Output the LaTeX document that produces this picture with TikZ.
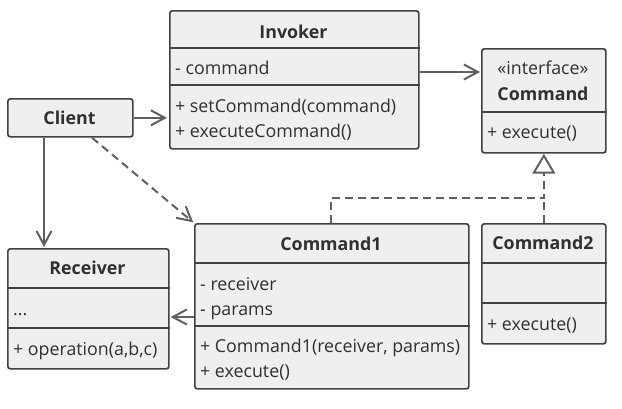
\documentclass[tikz,border=0pt]{standalone}
\usepackage{fontspec}
\setmainfont{Open Sans}
\usetikzlibrary{arrows.meta}
\definecolor{bd}{HTML}{424242}
\definecolor{fl}{HTML}{EFEFEF}
\definecolor{tx}{HTML}{303030}
\definecolor{ln}{HTML}{606060}
\begin{document}
\begin{tikzpicture}[x=1pt,y=-1pt,
  box/.style={draw=bd, fill=fl, line width=1.7pt, rounded corners=2.5pt, inner sep=0pt, anchor=north west},
  sep/.style={draw=bd, line width=1.7pt},
  txt/.style={anchor=base west, inner sep=0pt, text=tx, font=\fontsize{17.8}{20}\selectfont},
  ttl/.style={anchor=base, inner sep=0pt, text=tx, font=\fontsize{17.8}{20}\selectfont\bfseries},
  conn/.style={draw=ln, line width=2pt},
  opentip/.style={-{Straight Barb[length=14pt,width=15pt,line width=2pt]}},
  dsh/.style={dash pattern=on 8pt off 5pt},
]
\useasboundingbox (0,0) rectangle (622,408);

% Invoker
\node[box, minimum width=249pt, minimum height=138pt] (inv) at (169,10) {};
\draw[sep] (inv.west |- 0,48) -- (inv.east |- 0,48);
\draw[sep] (inv.west |- 0,85) -- (inv.east |- 0,85);
\node[ttl] (invT) at (293.5,38) {Invoker};
\node[txt] (invA) at (175,74) {- command};
\node[txt] (invM1) at (175,112) {+ setCommand(command)};
\node[txt] (invM2) at (175,137) {+ executeCommand()};

% Client
\node[box, minimum width=125pt, minimum height=38pt] (cl) at (7,98) {};
\node[ttl] (clT) at (69.5,124) {Client};

% Command interface
\node[box, minimum width=124pt, minimum height=104pt] (cmd) at (481,48) {};
\draw[sep] (cmd.west |- 0,112) -- (cmd.east |- 0,112);
\node[txt, anchor=base] (cmdS) at (543,74) {«interface»};
\node[ttl] (cmdT) at (543,100) {Command};
\node[txt] (cmdM) at (487,138) {+ execute()};

% Command1
\node[box, minimum width=274pt, minimum height=165pt] (c1) at (194,223) {};
\draw[sep] (c1.west |- 0,263) -- (c1.east |- 0,263);
\draw[sep] (c1.west |- 0,326) -- (c1.east |- 0,326);
\node[ttl] (c1T) at (331,250) {Command1};
\node[txt] (c1A1) at (200,290) {- receiver};
\node[txt] (c1A2) at (200,315) {- params};
\node[txt] (c1M1) at (200,352) {+ Command1(receiver, params)};
\node[txt] (c1M2) at (200,377) {+ execute()};

% Command2
\node[box, minimum width=124pt, minimum height=120pt] (c2) at (481,223) {};
\draw[sep] (c2.west |- 0,263) -- (c2.east |- 0,263);
\draw[sep] (c2.west |- 0,303) -- (c2.east |- 0,303);
\node[ttl] (c2T) at (543,249) {Command2};
\node[txt] (c2M) at (487,330) {+ execute()};

% Receiver
\node[box, minimum width=161pt, minimum height=120pt] (rc) at (7,248) {};
\draw[sep] (rc.west |- 0,288) -- (rc.east |- 0,288);
\draw[sep] (rc.west |- 0,328) -- (rc.east |- 0,328);
\node[ttl] (rcT) at (87.5,274) {Receiver};
\node[txt] (rcA) at (13,315) {...};
\node[txt] (rcM) at (13,355) {+ operation(a,b,c)};

% connectors
\draw[conn, opentip, shorten >=2pt] (cl.east) -- (inv.west |- cl.east);
\draw[conn, opentip, shorten >=1pt] (inv.east |- 0,72) -- (cmd.west |- 0,72);
\draw[conn, opentip, shorten >=1pt] (cl.south -| 44,0) -- (rc.north -| 44,0);
\draw[conn, opentip, shorten >=1pt] (c1.west |- 0,317) -- (rc.east |- 0,317);
\draw[conn, dsh, opentip, shorten >=1pt] (cl.south -| 92,0) -- (c1.north west);
\draw[conn, dsh, -{Triangle[open, fill=white, length=20pt, width=23pt, line width=2pt]}] (c1.north -| 331,0) -- (331,198) -| (cmd.south);
\draw[conn, dsh] (c2.north) -- (c2.north |- 0,198);
\end{tikzpicture}
\end{document}
